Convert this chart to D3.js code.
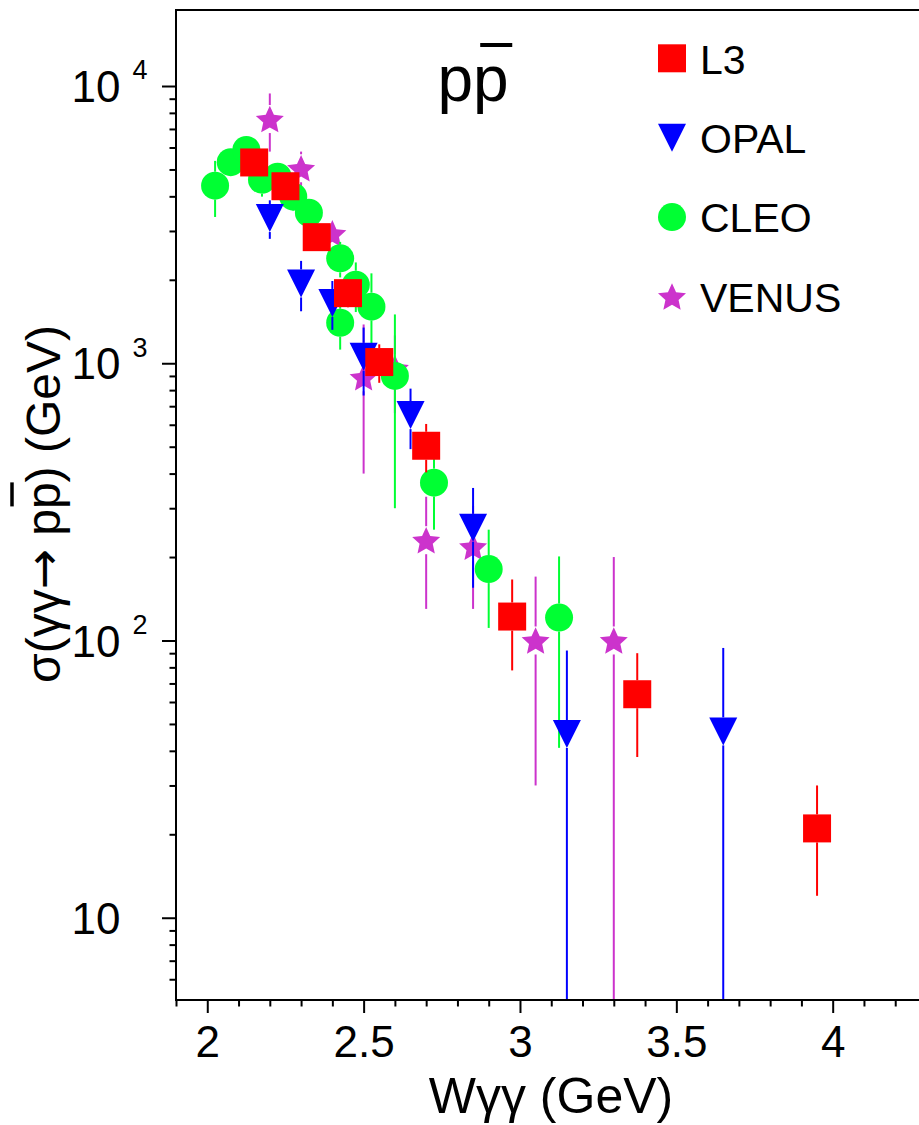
<!DOCTYPE html>
<html>
<head>
<meta charset="utf-8">
<script src="https://cdn.jsdelivr.net/npm/d3@7/dist/d3.min.js"></script>
<style>
  body { margin: 0; background: #fff; }
  svg text { font-family: 'Liberation Sans', Arial, Helvetica, sans-serif; fill: #000; }
</style>
</head>
<body>
<div id="chart"></div>
<script>
// axis ranges
const w_range = [1.9, 4.3];
const sigma_range = [5.05, 18800];
const w_major = [2, 2.5, 3, 3.5, 4];
const sigma_major = [10, 100, 1000, 10000];

// L3
const l3_w     = [2.15, 2.25, 2.35, 2.45, 2.55, 2.70, 2.975, 3.375, 3.95];
const l3_sigma = [5300, 4350, 2850, 1790, 1010, 504, 122, 64, 21];
const l3_err   = [550, 400, 300, 200, 160, 100, 44, 26, 9];

// OPAL
const opal_w     = [2.20, 2.30, 2.40, 2.50, 2.65, 2.85, 3.15, 3.65];
const opal_sigma = [3340, 1940, 1650, 1055, 650, 255, 46, 47];
const opal_err   = [530, 400, 330, 290, 160, 100, 46, 47];

// CLEO
const cleo_w     = [2.025, 2.075, 2.125, 2.175, 2.225, 2.275, 2.325, 2.425, 2.475, 2.425, 2.525, 2.60, 2.725, 2.90, 3.125];
const cleo_sigma = [4370, 5310, 5880, 4590, 4710, 3990, 3490, 2390, 1920, 1400, 1600, 900, 371, 181, 121];
const cleo_err   = [1000, 500, 500, 600, 500, 450, 400, 350, 390, 280, 510, 600, 120, 70, 80];

// VENUS
const venus_w     = [2.20, 2.30, 2.40, 2.50, 2.60, 2.70, 2.85, 3.05, 3.30];
const venus_sigma = [7600, 5050, 2940, 890, 960, 230, 218, 100, 100];
const venus_err   = [1800, 750, 300, 490, 300, 100, 88, 70, 100];

// marker shapes, size = (marker width)^2
const symSquare = {
  draw(ctx, size) {
    let h = Math.sqrt(size) / 2;
    ctx.rect(-h, -h, 2 * h, 2 * h);
  }
};
const symCircle = {
  draw(ctx, size) {
    let r = Math.sqrt(size) / 2;
    ctx.moveTo(r, 0);
    ctx.arc(0, 0, r, 0, 2 * Math.PI);
  }
};
const symTriDown = {
  draw(ctx, size) {
    let h = Math.sqrt(size) / 2;
    ctx.moveTo(-h, -h);
    ctx.lineTo(h, -h);
    ctx.lineTo(0, h);
    ctx.closePath();
  }
};
const symStar = {
  draw(ctx, size) {
    let R = Math.sqrt(size) / 1.902;
    let r = R * 0.47;
    let dy = R * 0.0955; // keep bbox centred
    for (let i = 0; i < 10; i++) {
      let a = -Math.PI / 2 + i * Math.PI / 5;
      let rr = i % 2 ? r : R;
      let px = rr * Math.cos(a), py = rr * Math.sin(a) + dy;
      if (i === 0) ctx.moveTo(px, py); else ctx.lineTo(px, py);
    }
    ctx.closePath();
  }
};

class SigmaChart {
  constructor() {
    this.W = 919;
    this.H = 1125;
    this.msize = 28;
    this.frame = {left: 176, right: 926.5, top: 10, bottom: 1000};
    this.x = d3.scaleLinear().domain(w_range).range([this.frame.left, this.frame.right]);
    this.y = d3.scaleLog().domain(sigma_range).range([this.frame.bottom, this.frame.top]);

    this.svg = d3.select('#chart').append('svg')
      .attr('width', this.W)
      .attr('height', this.H)
      .style('background', '#fff')
      .style('display', 'block');

    // draw order: last one ends up on top
    this.series = [
      {name: 'VENUS', w: venus_w, s: venus_sigma, e: venus_err, color: '#cc33cc', sym: symStar},
      {name: 'CLEO',  w: cleo_w,  s: cleo_sigma,  e: cleo_err,  color: '#00ff33', sym: symCircle},
      {name: 'OPAL',  w: opal_w,  s: opal_sigma,  e: opal_err,  color: '#0000ff', sym: symTriDown},
      {name: 'L3',    w: l3_w,    s: l3_sigma,    e: l3_err,    color: '#ff0000', sym: symSquare},
    ];

    this.renderSeries();
    this.renderAxes();
    this.renderLegend();
    this.renderTitles();
  }

  renderAxes() {
    let f = this.frame;
    let x = this.x, y = this.y;

    this.svg.append('rect')
      .attr('x', f.left).attr('y', f.top)
      .attr('width', f.right - f.left).attr('height', f.bottom - f.top)
      .attr('fill', 'none').attr('stroke', '#000').attr('stroke-width', 2);

    // x minor ticks
    let wMinor = d3.range(19, 44).map(d => d / 10).filter(d => !w_major.some(m => Math.abs(m - d) < 1e-6));
    this.svg.append('g')
      .attr('transform', `translate(0,${f.bottom})`)
      .call(d3.axisBottom(x).tickValues(wMinor).tickSize(6.5).tickFormat(''))
      .call(g => g.select('.domain').remove())
      .call(g => g.selectAll('line').attr('stroke-width', 2));

    let xa = this.svg.append('g')
      .attr('transform', `translate(0,${f.bottom})`)
      .call(d3.axisBottom(x).tickValues(w_major).tickSize(13).tickFormat(d3.format('~g')));
    xa.select('.domain').remove();
    xa.selectAll('line').attr('stroke-width', 2);
    xa.selectAll('text')
      .attr('y', 57).attr('dy', 0)
      .attr('font-size', 44)
      .attr('font-family', null);

    // y minor ticks: 2..9 per decade
    let sMinor = [];
    for (let k = 0; k <= 4; k++) {
      for (let m = 2; m <= 9; m++) {
        let v = m * Math.pow(10, k);
        if (v > sigma_range[0] && v < sigma_range[1]) sMinor.push(v);
      }
    }
    this.svg.append('g')
      .attr('transform', `translate(${f.left},0)`)
      .call(d3.axisLeft(y).tickValues(sMinor).tickSize(6.5).tickFormat(''))
      .call(g => g.select('.domain').remove())
      .call(g => g.selectAll('line').attr('stroke-width', 2));

    let ya = this.svg.append('g')
      .attr('transform', `translate(${f.left},0)`)
      .call(d3.axisLeft(y).tickValues(sigma_major).tickSize(14).tickFormat(''));
    ya.select('.domain').remove();
    ya.selectAll('line').attr('stroke-width', 2);
    ya.selectAll('text')
      .attr('x', -104.5).attr('dy', 0).attr('y', 15.6)
      .attr('text-anchor', 'start')
      .attr('font-size', 44)
      .attr('font-family', null)
      .each(function(d) {
        let t = d3.select(this);
        let ex = Math.round(Math.log10(d));
        t.append('tspan').text('10');
        if (ex > 1) {
          t.append('tspan').attr('dx', 12).attr('dy', -22.7).attr('font-size', 27).text(ex);
        }
      });
  }

  errSegments(cx, cy, lo, hi) {
    // ROOT style: bar skips the marker box
    let half = this.msize / 2;
    let segs = [];
    if (hi < cy - half) segs.push([hi, cy - half]);
    if (lo > cy + half) segs.push([cy + half, lo]);
    return segs.map(s => ({x: cx, y1: s[0], y2: s[1]}));
  }

  renderSeries() {
    let x = this.x, y = this.y;
    let ymin = sigma_range[0];
    let sym = d3.symbol().size(this.msize * this.msize);

    for (let ser of this.series) {
      let pts = ser.w.map((w, i) => ({w: w, s: ser.s[i], e: ser.e[i]}));
      let g = this.svg.append('g').classed('series', true);

      let bars = [];
      for (let p of pts) {
        let cx = x(p.w), cy = y(p.s);
        let lo = y(Math.max(p.s - p.e, ymin));
        let hi = y(Math.min(p.s + p.e, sigma_range[1]));
        bars = bars.concat(this.errSegments(cx, cy, lo, hi));
      }
      g.selectAll('.err').data(bars).enter()
        .append('line')
        .classed('err', true)
        .attr('x1', d => d.x).attr('x2', d => d.x)
        .attr('y1', d => d.y1).attr('y2', d => d.y2)
        .attr('stroke', ser.color)
        .attr('stroke-width', 2);

      g.selectAll('.mark').data(pts).enter()
        .append('path')
        .classed('mark', true)
        .attr('d', sym.type(ser.sym)())
        .attr('transform', d => `translate(${x(d.w)},${y(d.s)})`)
        .attr('fill', ser.color);
    }
  }

  renderLegend() {
    let order = ['L3', 'OPAL', 'CLEO', 'VENUS'];
    let rows = order.map(n => this.series.find(s => s.name === n));
    let ly = d3.scalePoint().domain(order).range([58.3, 296.5]);
    let sym = d3.symbol().size(this.msize * this.msize);

    let lg = this.svg.append('g').classed('legend', true);
    let items = lg.selectAll('g').data(rows).enter()
      .append('g')
      .attr('transform', d => `translate(672,${ly(d.name)})`);
    items.append('path')
      .attr('d', d => sym.type(d.sym)())
      .attr('fill', d => d.color);
    items.append('text')
      .attr('x', 28)
      .attr('y', 15.3)
      .attr('font-size', 41)
      .text(d => d.name);
  }

  renderTitles() {
    // big p pbar label
    let pt = this.svg.append('text')
      .attr('x', 437.5)
      .attr('y', 101)
      .attr('font-size', 64)
      .text('pp');
    let ext = pt.node().getExtentOfChar(1);
    this.svg.append('line')
      .attr('x1', ext.x + 0.2 * ext.width).attr('x2', ext.x + ext.width * 1.1)
      .attr('y1', 45).attr('y2', 45)
      .attr('stroke', '#000').attr('stroke-width', 4);

    // x title
    this.svg.append('text')
      .attr('x', 551)
      .attr('y', 1113)
      .attr('text-anchor', 'middle')
      .attr('font-size', 50)
      .text('Wγγ (GeV)');

    // y title, rotated
    let yg = this.svg.append('g')
      .attr('transform', 'translate(60,504) rotate(-90)');
    let yt = yg.append('text')
      .attr('x', 0).attr('y', 0)
      .attr('text-anchor', 'middle')
      .attr('font-size', 48);
    yt.append('tspan').text('σ(γγ');
    yt.append('tspan').attr('font-family', "'DejaVu Sans', sans-serif").text('→');
    yt.append('tspan').text(' pp) (GeV)');
    let idx = 'σ(γγ→ p'.length;
    let pe = yt.node().getExtentOfChar(idx);
    yg.append('line')
      .attr('x1', pe.x + 0.1 * pe.width).attr('x2', pe.x + pe.width)
      .attr('y1', -48).attr('y2', -48)
      .attr('stroke', '#000').attr('stroke-width', 3.5);
  }

  static init() {
    return new SigmaChart();
  }
}

SigmaChart.init();
</script>
</body>
</html>
